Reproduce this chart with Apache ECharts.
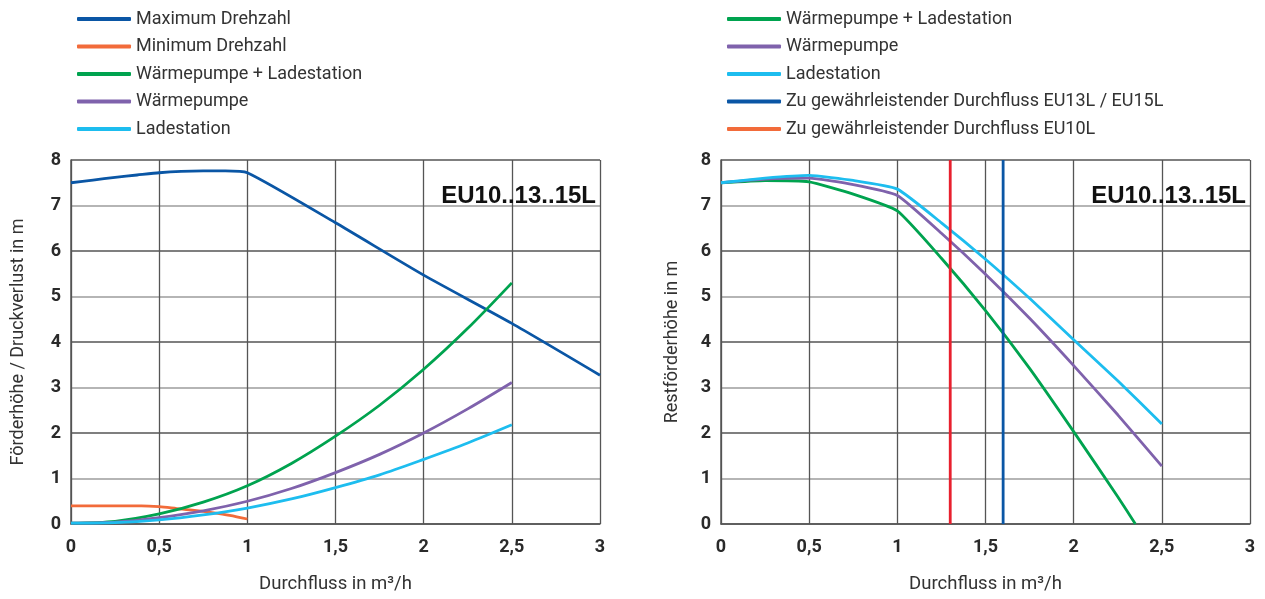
<!DOCTYPE html>
<html>
<head>
<meta charset="utf-8">
<script src="https://cdn.jsdelivr.net/npm/echarts@6/dist/echarts.min.js"></script>
<style>
html,body{margin:0;padding:0;background:#fff;}
#c{width:1265px;height:599px;}
</style>
</head>
<body>
<div id="c"></div>
<script>
// ---- Data ----
const xTicks = ['0', '0,5', '1', '1,5', '2', '2,5', '3'];
const yTicks = ['0','1','2','3','4','5','6','7','8'];

// Left chart: pump curves and pressure losses
const maxDrehzahlX = [0, 0.125, 0.25, 0.375, 0.5, 0.625, 0.75, 0.875, 1, 1.5, 2, 2.5, 3];
const maxDrehzahlY = [7.5, 7.56, 7.62, 7.67, 7.72, 7.75, 7.76, 7.76, 7.72, 6.62, 5.47, 4.41, 3.27];
const minDrehzahlX = [0, 0.2, 0.4, 0.5, 0.6, 0.7, 0.8, 0.9, 1];
const minDrehzahlY = [0.4, 0.4, 0.4, 0.38, 0.34, 0.3, 0.25, 0.19, 0.11];
const lossX = [0, 0.25, 0.5, 0.75, 1, 1.25, 1.5, 1.75, 2, 2.25, 2.5];
const lossWpLs = [0.02, 0.06, 0.22, 0.48, 0.84, 1.33, 1.93, 2.61, 3.40, 4.30, 5.30];
const lossWp   = [0.02, 0.04, 0.14, 0.29, 0.50, 0.78, 1.13, 1.53, 2.00, 2.53, 3.11];
const lossLs   = [0.02, 0.03, 0.09, 0.20, 0.35, 0.55, 0.80, 1.08, 1.42, 1.78, 2.18];

// Right chart: remaining head
const restX    = [0, 0.25, 0.5, 0.75, 1, 1.25, 1.5, 1.75, 2, 2.25, 2.5];
const restWpLsX = [0, 0.25, 0.5, 0.75, 1, 1.25, 1.5, 1.75, 2, 2.25, 2.35];
const restWpLs = [7.5, 7.55, 7.52, 7.25, 6.88, 5.84, 4.69, 3.42, 2.03, 0.6, 0];
const restWp   = [7.5, 7.58, 7.6, 7.46, 7.22, 6.39, 5.49, 4.52, 3.48, 2.4, 1.27];
const restLs   = [7.5, 7.6, 7.66, 7.55, 7.36, 6.62, 5.82, 4.96, 4.05, 3.15, 2.2];
const flowEU13_15 = 1.6;
const flowEU10 = 1.3;

const names = {
  max: 'Maximum Drehzahl',
  min: 'Minimum Drehzahl',
  wpls: 'Wärmepumpe + Ladestation',
  wp: 'Wärmepumpe',
  ls: 'Ladestation',
  eu13: 'Zu gewährleistender Durchfluss EU13L / EU15L',
  eu10: 'Zu gewährleistender Durchfluss EU10L'
};

// ---- Styles ----
const C = {
  blue: '#0a56a5', orange: '#f26b3a', green: '#00a34f',
  purple: '#7f62ac', cyan: '#1dbdef', red: '#e8202e'
};
const FONT = 'Roboto, "Noto Sans", sans-serif';

const zip = (xs, ys) => xs.map((x, i) => [x, ys[i]]);

function xAxis(gridIndex) {
  return {
    type: 'value', gridIndex, min: 0, max: 3, interval: 0.5,
    name: 'Durchfluss in m³/h', nameLocation: 'middle', nameGap: 51,
    nameTextStyle: { fontFamily: FONT, fontSize: 18.5, color: '#333' },
    axisLine: { show: true, lineStyle: { color: '#555', width: 1.5 } },
    axisTick: { show: false },
    axisLabel: {
      margin: 14, fontFamily: FONT, fontSize: 18, fontWeight: 'bold', color: '#2a2a2a',
      formatter: v => xTicks[Math.round(v / 0.5)]
    },
    splitLine: { show: true, lineStyle: { color: '#555', width: 1.3 } }
  };
}
function yAxis(gridIndex, name, gap) {
  return {
    type: 'value', gridIndex, min: 0, max: 8, interval: 1,
    name, nameLocation: 'middle', nameGap: gap,
    nameTextStyle: { fontFamily: FONT, fontSize: 18, color: '#333' },
    axisLine: { show: true, lineStyle: { color: '#555', width: 1.5 } },
    axisTick: { show: false },
    axisLabel: {
      margin: 10, fontFamily: FONT, fontSize: 18, fontWeight: 'bold', color: '#2a2a2a',
      formatter: v => yTicks[Math.round(v)]
    },
    splitLine: { show: true, lineStyle: { color: ['#555', '#9c9c9c'], width: 1.5 } }
  };
}
function line(name, data, color, xi, smooth) {
  return {
    type: 'line', name, data, xAxisIndex: xi, yAxisIndex: xi,
    showSymbol: false, symbol: 'none', smooth: smooth || false,
    lineStyle: { color, width: 2.8 }, itemStyle: { color },
    z: 3, silent: true
  };
}
function legend(left, items) {
  return {
    orient: 'vertical', left, top: 5, itemGap: 9.5,
    icon: 'roundRect', itemWidth: 54, itemHeight: 4,
    textStyle: { fontFamily: FONT, fontSize: 18, color: '#333', padding: [0, 0, 0, 0], lineHeight: 18 },
    data: items, selectedMode: false
  };
}

const titleStyle = { fontFamily: '"Liberation Sans", Arial, sans-serif', fontWeight: 'bold', fontSize: 24, color: '#111' };

const option = {
  animation: false,
  backgroundColor: '#fff',
  title: [
    { text: 'EU10..13..15L', right: 664, top: 179, textStyle: titleStyle },
    { text: 'EU10..13..15L', right: 14, top: 179, textStyle: titleStyle }
  ],
  legend: [
    legend(72, [
      { name: names.max, itemStyle: { color: C.blue } },
      { name: names.min, itemStyle: { color: C.orange } },
      { name: names.wpls, itemStyle: { color: C.green } },
      { name: names.wp, itemStyle: { color: C.purple } },
      { name: names.ls, itemStyle: { color: C.cyan } }
    ]),
    legend(722, [
      { name: names.wpls, itemStyle: { color: C.green } },
      { name: names.wp, itemStyle: { color: C.purple } },
      { name: names.ls, itemStyle: { color: C.cyan } },
      { name: names.eu13, itemStyle: { color: C.blue } },
      { name: names.eu10, itemStyle: { color: C.orange } }
    ])
  ],
  grid: [
    { left: 71, width: 529, top: 160, height: 364 },
    { left: 721, width: 529, top: 160, height: 364 }
  ],
  xAxis: [xAxis(0), xAxis(1)],
  yAxis: [yAxis(0, 'Förderhöhe / Druckverlust in m', 44), yAxis(1, 'Restförderhöhe in m', 40)],
  series: [
    line(names.max, zip(maxDrehzahlX, maxDrehzahlY), C.blue, 0, 0.2),
    line(names.min, zip(minDrehzahlX, minDrehzahlY), C.orange, 0, 0.3),
    line(names.wpls, zip(lossX, lossWpLs), C.green, 0, 0.3),
    line(names.wp, zip(lossX, lossWp), C.purple, 0, 0.3),
    line(names.ls, zip(lossX, lossLs), C.cyan, 0, 0.3),

    line(names.wpls, zip(restWpLsX, restWpLs), C.green, 1, 0.15),
    line(names.wp, zip(restX, restWp), C.purple, 1, 0.15),
    line(names.ls, zip(restX, restLs), C.cyan, 1, 0.15),
    line(names.eu13, [[flowEU13_15, 0], [flowEU13_15, 8]], C.blue, 1, false),
    line(names.eu10, [[flowEU10, 0], [flowEU10, 8]], C.red, 1, false)
  ]
};

const chart = echarts.init(document.getElementById('c'), null, { renderer: 'canvas' });
chart.setOption(option);
</script>
</body>
</html>
